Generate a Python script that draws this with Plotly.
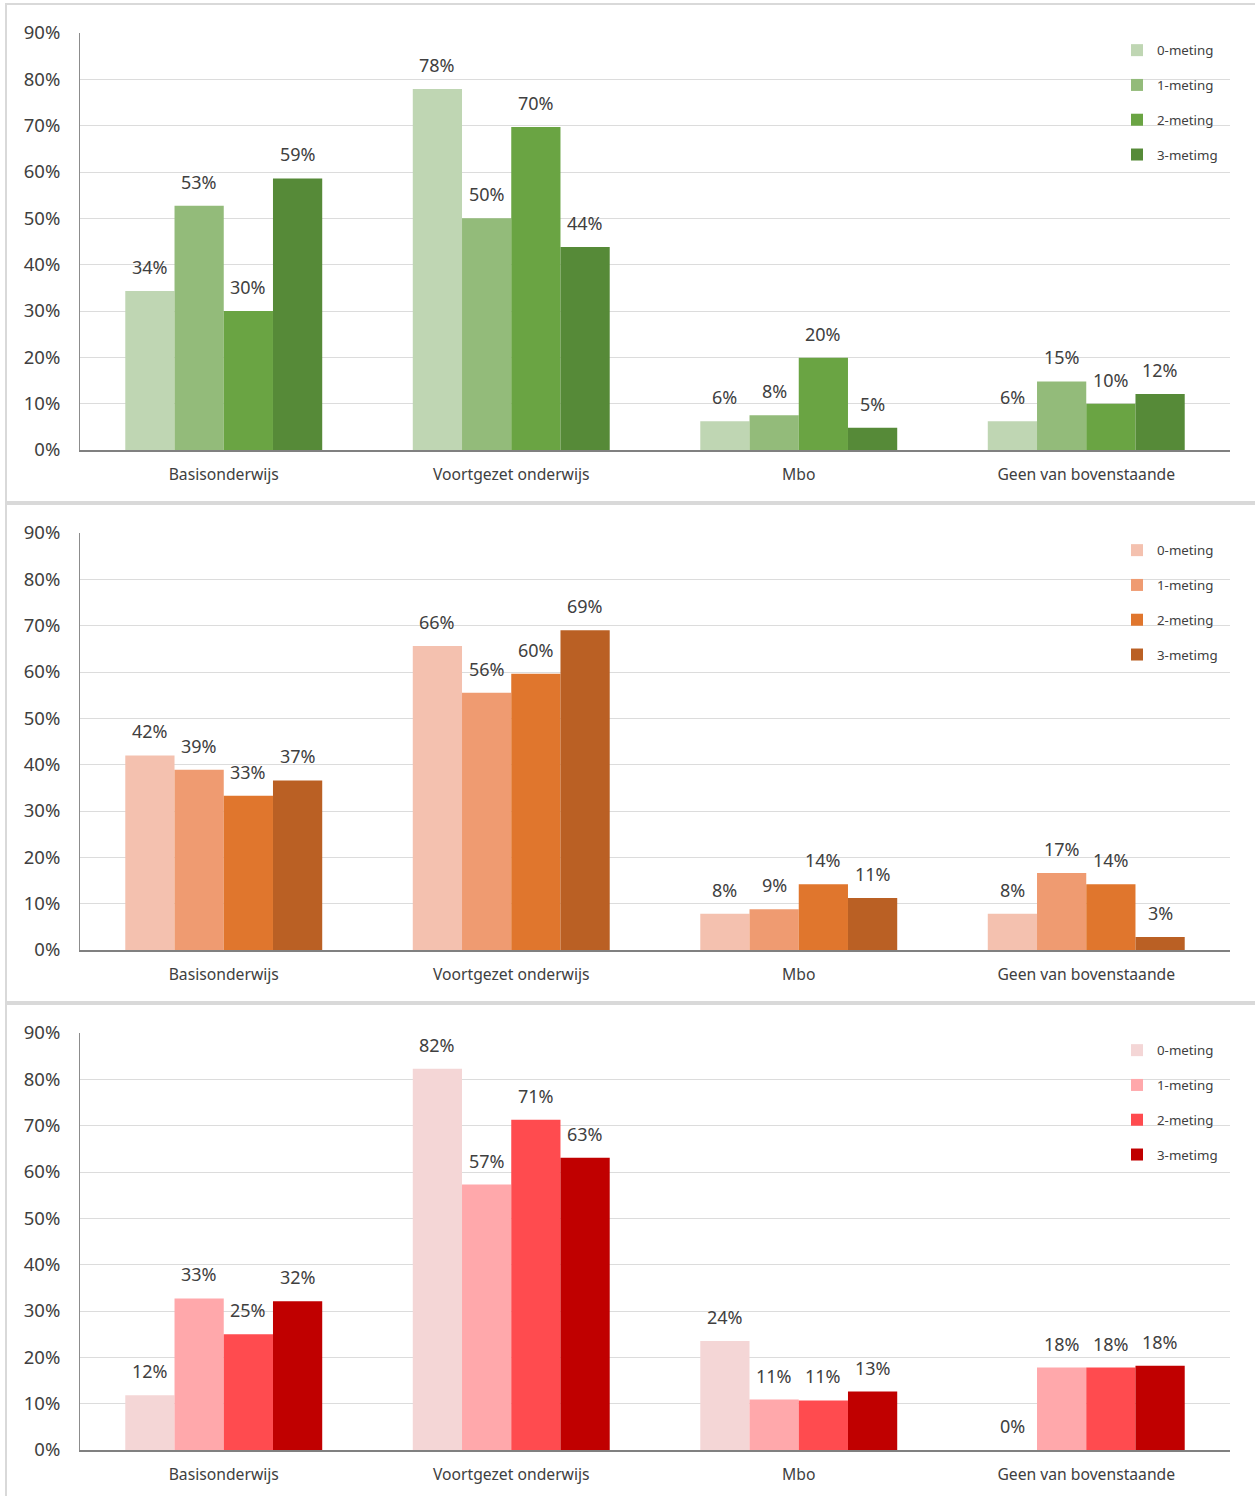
import plotly.graph_objects as go

W, H = 1255, 1496

categories = ["Basisonderwijs", "Voortgezet onderwijs", "Mbo", "Geen van bovenstaande"]
series_names = ["0-meting", "1-meting", "2-meting", "3-metimg"]

# panel 1 (green)
green_0 = [0.343, 0.779, 0.062, 0.062]
green_1 = [0.527, 0.500, 0.075, 0.148]
green_2 = [0.300, 0.697, 0.199, 0.100]
green_3 = [0.586, 0.438, 0.048, 0.121]
# panel 2 (orange)
orange_0 = [0.420, 0.656, 0.078, 0.078]
orange_1 = [0.389, 0.555, 0.088, 0.166]
orange_2 = [0.333, 0.596, 0.142, 0.142]
orange_3 = [0.366, 0.690, 0.112, 0.028]
# panel 3 (red)
red_0 = [0.118, 0.823, 0.235, 0.0]
red_1 = [0.327, 0.573, 0.109, 0.178]
red_2 = [0.250, 0.713, 0.107, 0.178]
red_3 = [0.321, 0.631, 0.126, 0.182]

panels = [
    ([green_0, green_1, green_2, green_3], ["#BFD6B3", "#93BB7A", "#6AA443", "#568A38"]),
    ([orange_0, orange_1, orange_2, orange_3], ["#F4C1AF", "#EF9B71", "#E0762D", "#BA6024"]),
    ([red_0, red_1, red_2, red_3], ["#F4D6D6", "#FFA8AB", "#FF4B4F", "#C00000"]),
]

tick_vals = [0, 0.1, 0.2, 0.3, 0.4, 0.5, 0.6, 0.7, 0.8, 0.9]
tick_text = ["0%", "10%", "20%", "30%", "40%", "50%", "60%", "70%", "80%", "90%"]

FONT = "Noto Sans, Open Sans, sans-serif"
TXT = "#404040"
BARGAP = 0.315

fig = go.Figure()
layout = dict(
    width=W, height=H, margin=dict(l=0, r=0, t=0, b=0, autoexpand=False),
    paper_bgcolor="white", plot_bgcolor="white",
    barmode="group", bargap=BARGAP, bargroupgap=0,
    font=dict(family=FONT, color=TXT),
    showlegend=True,
)
annotations = []
shapes = []

x0p, x1p = 80 / W, 1230 / W
for k, (vals, colors) in enumerate(panels):
    top_px = 33 + 500 * k
    bot_px = 450 + 500 * k
    sfx = "" if k == 0 else str(k + 1)
    xa, ya = "x" + sfx, "y" + sfx
    leg = "legend" + sfx
    for i, (name, v, c) in enumerate(zip(series_names, vals, colors)):
        fig.add_trace(go.Bar(
            x=categories, y=v, name=name, marker=dict(color=c, line=dict(width=0)),
            xaxis=xa, yaxis=ya, legend=leg, legendgroup=f"g{k}{i}",
            hoverinfo="skip",
        ))
        bw = (1 - BARGAP) / len(series_names)
        off = (i - (len(series_names) - 1) / 2) * bw
        for j, val in enumerate(v):
            annotations.append(dict(
                x=j + off, y=val, xref=xa, yref=ya, text=f"{round(val * 100):.0f}%",
                showarrow=False, yanchor="middle", yshift=24,
                font=dict(size=18, color=TXT, family=FONT),
            ))
    layout["xaxis" + sfx] = dict(
        domain=[x0p, x1p], anchor=ya, type="category",
        showline=True, linecolor="#808080", linewidth=1.5,
        ticks="", showgrid=False, tickfont=dict(size=15.7, color=TXT),
        ticklabelstandoff=9, automargin=False,
    )
    layout["yaxis" + sfx] = dict(
        domain=[1 - bot_px / H, 1 - top_px / H], anchor=xa,
        range=[0, 0.9], tickvals=tick_vals, ticktext=tick_text,
        showline=True, linecolor="#8C8C8C", linewidth=1,
        gridcolor="#DCDCDC", gridwidth=1, zeroline=False,
        tickfont=dict(size=18.5, color=TXT), ticklabelstandoff=15, automargin=False,
    )
    layout[leg] = dict(
        x=1117 / W, xanchor="left", y=1 - (35 + 500 * k) / H, yanchor="top",
        bgcolor="rgba(0,0,0,0)", font=dict(size=13.3, color=TXT),
        tracegroupgap=14.5, traceorder="grouped",
    )
    shapes.append(dict(
        type="rect", xref="paper", yref="paper",
        x0=6 / W, x1=1262 / W, y0=1 - (502 + 500 * k) / H, y1=1 - (4 + 500 * k) / H,
        line=dict(color="#D9D9D9", width=2), fillcolor="rgba(0,0,0,0)", layer="below",
    ))

layout["annotations"] = annotations
layout["shapes"] = shapes
fig.update_layout(**layout)

fig.write_html(
    "out.html",
    config={"displayModeBar": False},
    post_script="document.body.style.margin='0';document.body.style.padding='0';",
)
